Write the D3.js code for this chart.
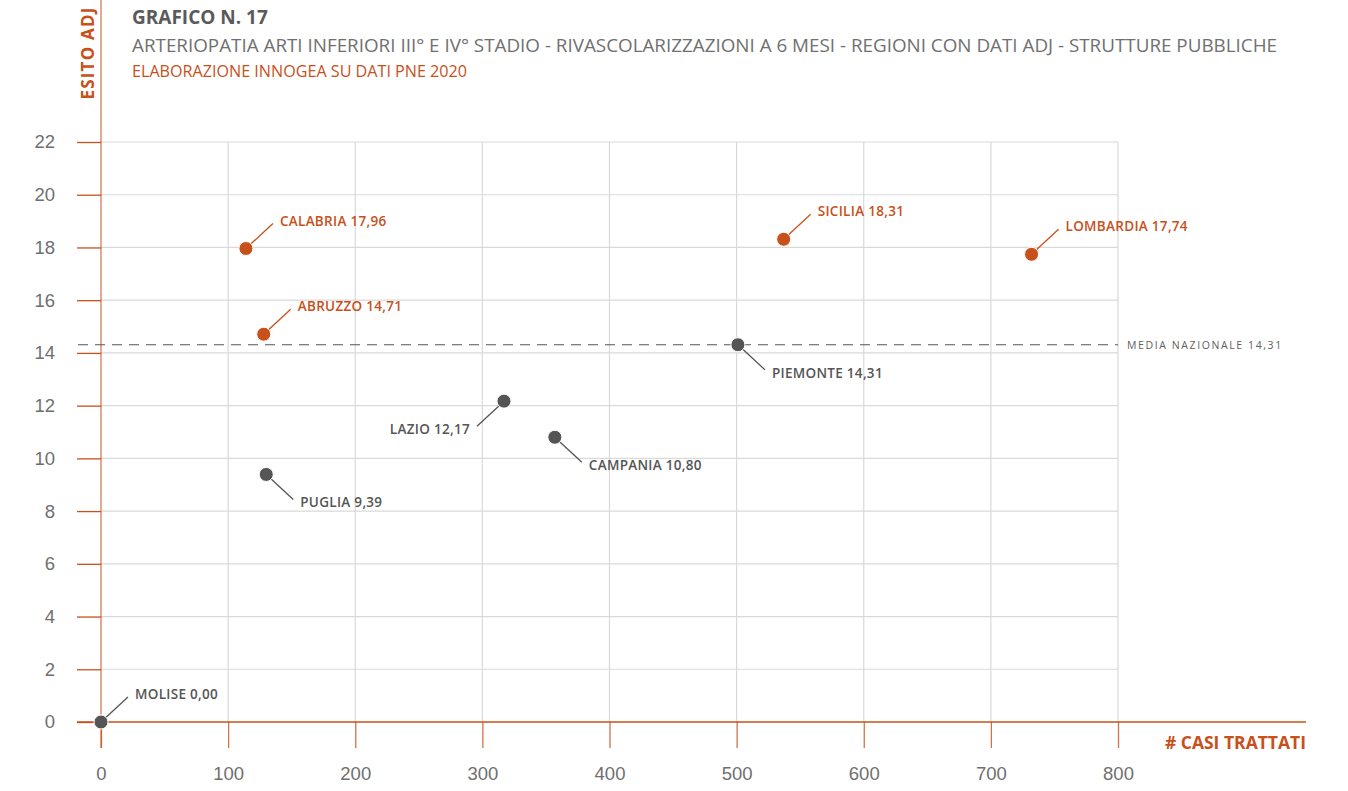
<!DOCTYPE html>
<html><head><meta charset="utf-8">
<script src="https://cdn.jsdelivr.net/npm/d3@7"></script>
<style>
body{margin:0;background:#fff;}
svg{display:block;font-family:"Open Sans",sans-serif;}
</style></head>
<body><svg id="c" width="1348" height="791"></svg>
<script>
const regions = ["CALABRIA","ABRUZZO","SICILIA","LOMBARDIA","PIEMONTE","LAZIO","CAMPANIA","PUGLIA","MOLISE"];
const casi = [114, 128, 537, 732, 501, 317, 357, 130, 0];
const esito = [17.96, 14.71, 18.31, 17.74, 14.31, 12.17, 10.80, 9.39, 0.00];
const highlight = [true, true, true, true, false, false, false, false, false];
const labelSide = ["ur","ur","ur","ur","dr","dl","dr","dr","ur"];
const xTicks = [0,100,200,300,400,500,600,700,800];
const yTicks = [0,2,4,6,8,10,12,14,16,18,20,22];
const mediaNazionale = 14.31;
const title = "GRAFICO N. 17";
const subtitle = "ARTERIOPATIA ARTI INFERIORI III° E IV° STADIO - RIVASCOLARIZZAZIONI A 6 MESI - REGIONI CON DATI ADJ - STRUTTURE PUBBLICHE";
const source = "ELABORAZIONE INNOGEA SU DATI PNE 2020";

const ORANGE = "#c8501a", GREY = "#555555", GRID = "#d9d9d9", TICKTXT = "#6f6f6f";
const svg = d3.select("#c");
const x = d3.scaleLinear().domain([0,800]).range([101,1118]);
const y = d3.scaleLinear().domain([0,22]).range([722,142]);
const fmt = v => d3.format(".2f")(v).replace(".", ",");

// grid
svg.append("g").selectAll("line").data(yTicks.filter(d=>d>0)).join("line")
  .attr("x1",x(0)).attr("x2",x(800)).attr("y1",d=>y(d)).attr("y2",d=>y(d))
  .attr("stroke",GRID).attr("stroke-width",1.2);
svg.append("g").selectAll("line").data(xTicks.filter(d=>d>0)).join("line")
  .attr("x1",d=>x(d)).attr("x2",d=>x(d)).attr("y1",y(22)).attr("y2",y(0))
  .attr("stroke",GRID).attr("stroke-width",1.2);

// axes
const xAxis = d3.axisBottom(x).tickValues(xTicks).tickSize(26).tickPadding(19).tickFormat(d3.format("d"));
const gx = svg.append("g").attr("transform",`translate(0,${y(0)})`).call(xAxis);
gx.select(".domain").remove();
gx.selectAll(".tick line").attr("stroke",ORANGE).attr("stroke-width",1.3).attr("opacity",0.8);
gx.selectAll(".tick text").attr("fill",TICKTXT).attr("font-size",18.5).attr("font-weight",300);
svg.append("line").attr("x1",77).attr("x2",1306).attr("y1",y(0)).attr("y2",y(0))
  .attr("stroke",ORANGE).attr("stroke-width",1.3);

const yAxis = d3.axisLeft(y).tickValues(yTicks).tickSize(24).tickPadding(22).tickFormat(d3.format("d"));
const gy = svg.append("g").attr("transform",`translate(${x(0)},0)`).call(yAxis);
gy.select(".domain").remove();
gy.selectAll(".tick line").attr("stroke",ORANGE).attr("stroke-width",1.3);
gy.selectAll(".tick text").attr("fill",TICKTXT).attr("font-size",18.5).attr("font-weight",300);
svg.append("line").attr("x1",x(0)).attr("x2",x(0)).attr("y1",0).attr("y2",748)
  .attr("stroke",ORANGE).attr("stroke-width",1.3).attr("opacity",0.75);

// axis titles
svg.append("text").attr("transform","translate(94,53) rotate(-90)").attr("text-anchor","middle")
  .attr("fill",ORANGE).attr("font-weight",700).attr("font-size",17).attr("letter-spacing",1.2).text("ESITO ADJ");
svg.append("text").attr("x",1306).attr("y",749).attr("text-anchor","end")
  .attr("fill",ORANGE).attr("font-weight",700).attr("font-size",17.5).text("# CASI TRATTATI");

// titles
svg.append("text").attr("x",132).attr("y",24).attr("fill","#5a5a5a").attr("font-weight",700).attr("font-size",19).text(title);
svg.append("text").attr("x",132).attr("y",52).attr("fill","#707070").attr("font-size",18)
  .attr("textLength",1145).attr("lengthAdjust","spacingAndGlyphs").text(subtitle);
svg.append("text").attr("x",132).attr("y",77).attr("fill",ORANGE).attr("font-size",16)
  .attr("textLength",335).attr("lengthAdjust","spacingAndGlyphs").text(source);

// media nazionale
svg.append("line").attr("x1",78).attr("x2",x(800)).attr("y1",y(mediaNazionale)).attr("y2",y(mediaNazionale))
  .attr("stroke","#555").attr("stroke-width",1.2).attr("stroke-dasharray","10,7");
svg.append("text").attr("x",1127).attr("y",y(mediaNazionale)+4.5).attr("fill","#606060")
  .attr("font-size",10.5).attr("letter-spacing",1.6).text("MEDIA NAZIONALE " + fmt(mediaNazionale));

// points and labels
const data = regions.map((r,i)=>({r, cx:casi[i], v:esito[i], h:highlight[i], side:labelSide[i]}));
const g = svg.append("g");
data.forEach(d=>{
  const px = x(d.cx), py = y(d.v), col = d.h ? ORANGE : GREY;
  const sx = d.side.includes("r") ? 1 : -1, sy = d.side.includes("u") ? -1 : 1;
  const ex = px + sx*27, ey = py + sy*25;
  g.append("line").attr("x1",px).attr("y1",py).attr("x2",ex).attr("y2",ey).attr("stroke",col).attr("stroke-width",1.3);
  g.append("text").attr("x",ex + sx*7).attr("y", sy<0 ? ey+2 : ey+8)
    .attr("text-anchor", sx>0 ? "start":"end").attr("fill",col).attr("font-weight",600)
    .attr("font-size",13.5).attr("letter-spacing",0.3).text(d.r + " " + fmt(d.v));
  g.append("circle").attr("cx",px).attr("cy",py).attr("r",7).attr("fill",col).attr("stroke","#fff").attr("stroke-width",1);
});
</script></body></html>
